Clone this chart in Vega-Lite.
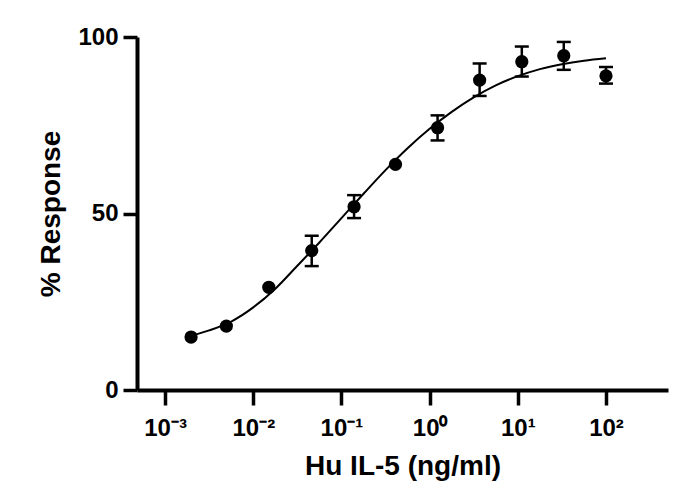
{
  "$schema": "https://vega.github.io/schema/vega-lite/v6.json",
  "width": 531,
  "height": 353,
  "autosize": "none",
  "padding": {"left": 137, "top": 37, "right": 5, "bottom": 112},
  "background": "white",
  "config": {
    "view": {"stroke": null},
    "font": "Liberation Sans",
    "axis": {
      "grid": false,
      "domainColor": "black",
      "domainWidth": 4,
      "tickColor": "black",
      "tickWidth": 3.5,
      "labelFont": "Liberation Sans",
      "labelFontWeight": "bold",
      "labelFontSize": 24,
      "labelColor": "black",
      "titleFont": "Liberation Sans",
      "titleFontWeight": "bold",
      "titleFontSize": 28,
      "titleColor": "black"
    }
  },
  "datasets": {
    "points": [
      {"conc": 0.00197, "resp": 15.0},
      {"conc": 0.00495, "resp": 18.1},
      {"conc": 0.0150, "resp": 29.1},
      {"conc": 0.0460, "resp": 39.5, "lo": 35.1, "hi": 43.7},
      {"conc": 0.139, "resp": 51.9, "lo": 48.7, "hi": 55.2},
      {"conc": 0.410, "resp": 63.9},
      {"conc": 1.23, "resp": 74.3, "lo": 70.7, "hi": 77.8},
      {"conc": 3.69, "resp": 87.8, "lo": 83.3, "hi": 92.5},
      {"conc": 11.1, "resp": 93.0, "lo": 88.8, "hi": 97.3},
      {"conc": 33.2, "resp": 94.7, "lo": 90.7, "hi": 98.6},
      {"conc": 100, "resp": 89.0, "lo": 86.8, "hi": 91.5}
    ],
    "curve": [
      {"conc": 0.002, "fit": 15.4},
      {"conc": 0.00316, "fit": 16.9},
      {"conc": 0.00562, "fit": 19.4},
      {"conc": 0.01, "fit": 23.4},
      {"conc": 0.0178, "fit": 28.7},
      {"conc": 0.0316, "fit": 35.2},
      {"conc": 0.0562, "fit": 41.8},
      {"conc": 0.1, "fit": 48.7},
      {"conc": 0.178, "fit": 55.6},
      {"conc": 0.316, "fit": 62.3},
      {"conc": 0.562, "fit": 68.5},
      {"conc": 1, "fit": 74.0},
      {"conc": 1.78, "fit": 78.8},
      {"conc": 3.16, "fit": 82.9},
      {"conc": 5.62, "fit": 86.3},
      {"conc": 10, "fit": 88.9},
      {"conc": 17.8, "fit": 90.9},
      {"conc": 31.6, "fit": 92.3},
      {"conc": 56.2, "fit": 93.3},
      {"conc": 100, "fit": 94.0}
    ]
  },
  "layer": [
    {
      "data": {"name": "curve"},
      "mark": {"type": "line", "color": "black", "strokeWidth": 2, "interpolate": "monotone"},
      "encoding": {
        "x": {
          "field": "conc", "type": "quantitative",
          "scale": {"type": "log", "domain": [0.00048, 505], "nice": false},
          "axis": {
            "title": "Hu IL-5 (ng/ml)",
            "values": [0.001, 0.01, 0.1, 1, 10, 100],
            "labelExpr": "'10' + ['⁻³','⁻²','⁻¹','⁰','¹','²'][round(log(datum.value)/LN10)+3]",
            "tickSize": 15,
            "labelPadding": 11,
            "titlePadding": 12
          }
        },
        "y": {
          "field": "fit", "type": "quantitative",
          "scale": {"domain": [0, 100], "nice": false},
          "axis": {
            "title": "% Response",
            "values": [0, 50, 100],
            "tickSize": 14,
            "labelPadding": 5,
            "titlePadding": 12
          }
        }
      }
    },
    {
      "data": {"name": "points"},
      "transform": [{"filter": "isValid(datum.lo)"}],
      "mark": {"type": "rule", "color": "black", "strokeWidth": 2.5},
      "encoding": {
        "x": {"field": "conc", "type": "quantitative"},
        "y": {"field": "lo", "type": "quantitative"},
        "y2": {"field": "hi"}
      }
    },
    {
      "data": {"name": "points"},
      "transform": [{"filter": "isValid(datum.lo)"}],
      "mark": {"type": "tick", "color": "black", "orient": "horizontal", "size": 14, "thickness": 2.5, "opacity": 1},
      "encoding": {
        "x": {"field": "conc", "type": "quantitative"},
        "y": {"field": "hi", "type": "quantitative"}
      }
    },
    {
      "data": {"name": "points"},
      "transform": [{"filter": "isValid(datum.lo)"}],
      "mark": {"type": "tick", "color": "black", "orient": "horizontal", "size": 14, "thickness": 2.5, "opacity": 1},
      "encoding": {
        "x": {"field": "conc", "type": "quantitative"},
        "y": {"field": "lo", "type": "quantitative"}
      }
    },
    {
      "data": {"name": "points"},
      "mark": {"type": "circle", "color": "black", "opacity": 1, "size": 175},
      "encoding": {
        "x": {"field": "conc", "type": "quantitative"},
        "y": {"field": "resp", "type": "quantitative"}
      }
    }
  ]
}
